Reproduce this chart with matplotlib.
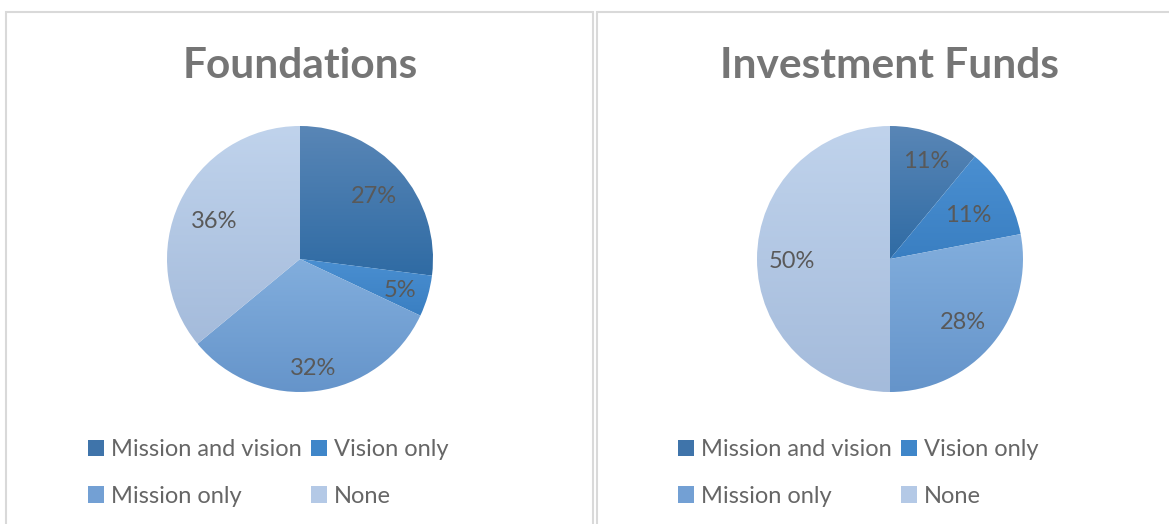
import numpy as np
import matplotlib
matplotlib.use("Agg")
import matplotlib.pyplot as plt
from matplotlib.patches import Rectangle
import matplotlib.colors as mcolors
import matplotlib.transforms as mtransforms

categories = ["Mission and vision", "Vision only", "Mission only", "None"]
titles = ["Foundations", "Investment Funds"]
foundations = [27, 5, 32, 36]
investment_funds = [11, 11, 28, 50]

# gradient colours (top, bottom) per category
grad_top = ["#5986b6", "#4a8fd1", "#82aedd", "#c0d3ec"]
grad_bot = ["#2f6ba4", "#3a7fc2", "#6594ca", "#a4bbdb"]
legend_colors = ["#3f74aa", "#3f86c9", "#73a0d4", "#b4c9e6"]

label_r = [[0.74, 0.78, 0.81, 0.71], [0.80, 0.68, 0.71, 0.74]]

W, H = 1169, 524
fig = plt.figure(figsize=(W / 100, H / 100), dpi=100)
fig.patch.set_facecolor("white")
plt.rcParams['font.family'] = ['Lato', 'DejaVu Sans']

def px(x, y, w, h):
    return [x / W, 1 - (y + h) / H, w / W, h / H]

# panel borders
border = "#d9d9d9"
fig.add_artist(Rectangle((6 / W, -0.1), 587 / W, 1.1 - 12 / H, transform=fig.transFigure,
                         fill=False, ec=border, lw=1.5))
fig.add_artist(Rectangle((597 / W, -0.1), 1.0, 1.1 - 12 / H, transform=fig.transFigure,
                         fill=False, ec=border, lw=1.5))

centers = [300, 890]
datasets = [foundations, investment_funds]
order = [0, 2, 1, 3]  # row-wise fill for a 2-column legend
for k in range(2):
    cx = centers[k]
    r = 133
    ax = fig.add_axes(px(cx - r, 259 - r, 2 * r, 2 * r))
    wedges, _ = ax.pie(datasets[k], startangle=90, counterclock=False,
                       colors=grad_top, wedgeprops=dict(linewidth=0))
    ax.set_xlim(-1, 1)
    ax.set_ylim(-1, 1)
    ax.set_aspect("equal")
    ax.axis("off")
    txt_tr = mtransforms.offset_copy(ax.transData, fig=fig, x=0, y=-3, units="dots")
    for i, w in enumerate(wedges):
        path = w.get_path().transformed(w.get_patch_transform())
        verts = path.vertices
        ymin, ymax = verts[:, 1].min(), verts[:, 1].max()
        xmin, xmax = verts[:, 0].min(), verts[:, 0].max()
        cmap = mcolors.LinearSegmentedColormap.from_list("g", [grad_bot[i], grad_top[i]])
        grad = np.linspace(0, 1, 256).reshape(-1, 1)
        im = ax.imshow(grad, extent=(xmin, xmax, ymin, ymax), origin="lower",
                       cmap=cmap, aspect="auto", zorder=2, interpolation="bilinear")
        im.set_clip_path(w)
        w.set_alpha(0)
        mid = np.deg2rad((w.theta1 + w.theta2) / 2)
        rr = label_r[k][i]
        ax.text(rr * np.cos(mid), rr * np.sin(mid), f"{datasets[k][i]}%",
                ha="center", va="center", fontsize=17, color="#595959", zorder=5,
                transform=txt_tr)
    ax.set_xlim(-1, 1)
    ax.set_ylim(-1, 1)
    fig.text(cx / W, 1 - 66 / H, titles[k], ha="center", va="center",
             fontsize=30.5, fontweight="bold", color="#757575")
    handles = [Rectangle((0, 0), 1, 1, fc=c, ec="none") for c in legend_colors]
    lax = fig.add_axes(px(cx - 212, 439, 460, 85))
    lax.axis("off")
    lax.legend([handles[j] for j in order], [categories[j] for j in order],
               loc="upper left", bbox_to_anchor=(0.0, 1.0),
               ncol=2, frameon=False, fontsize=17, labelcolor="#666666",
               handlelength=0.68, handleheight=0.68, handletextpad=0.28,
               columnspacing=0.42, labelspacing=1.09, borderaxespad=0, borderpad=0)

fig.savefig("out.png", dpi=100, facecolor="white")
